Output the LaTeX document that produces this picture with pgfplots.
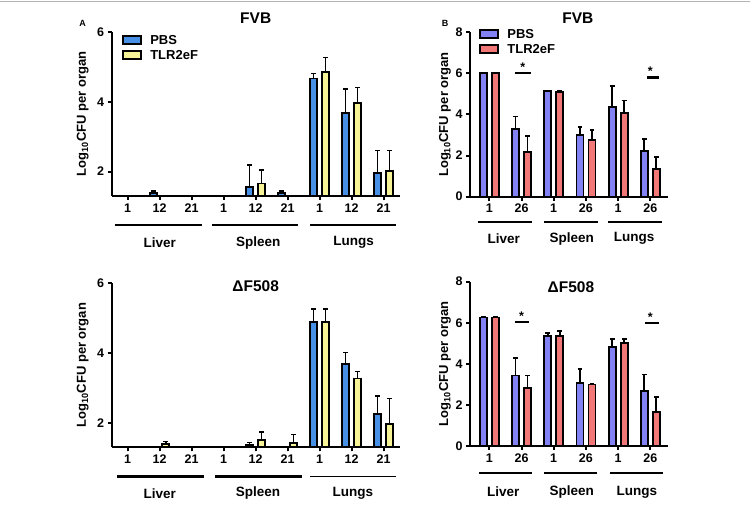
\documentclass[border=0pt]{standalone}
\usepackage{pgfplots}
\pgfplotsset{compat=1.18}
\usepackage{pgfplotstable}
\usepackage{fontspec}
\setmainfont{Liberation Sans}

\definecolor{aPBS}{RGB}{70,145,230}
\definecolor{aTLR}{RGB}{246,244,150}
\definecolor{bPBS}{RGB}{130,130,245}
\definecolor{bTLR}{RGB}{242,120,120}
\definecolor{topline}{RGB}{180,180,180}

% Panel A, FVB
\pgfplotstableread{
x y e
1 1.38 0.06
4 1.55 0.64
5 1.38 0.06
6 4.67 0.14
7 3.67 0.69
8 1.95 0.65
}\aTopPBS
\pgfplotstableread{
x y e
4 1.66 0.39
6 4.86 0.41
7 3.96 0.45
8 2.01 0.59
}\aTopTLR
% Panel A, dF508
\pgfplotstableread{
x y e
4 1.37 0.07
6 4.89 0.38
7 3.68 0.34
8 2.25 0.52
}\aBotPBS
\pgfplotstableread{
x y e
1 1.40 0.07
4 1.50 0.24
5 1.43 0.24
6 4.89 0.38
7 3.27 0.20
8 1.96 0.74
}\aBotTLR
% Panel B, FVB
\pgfplotstableread{
x y e
0 6.00 0.00
1 3.30 0.60
2 5.16 0.00
3 2.99 0.39
4 4.38 1.01
5 2.24 0.58
}\bTopPBS
\pgfplotstableread{
x y e
0 6.00 0.00
1 2.18 0.77
2 5.10 0.05
3 2.76 0.49
4 4.09 0.59
5 1.36 0.57
}\bTopTLR
% Panel B, dF508
\pgfplotstableread{
x y e
0 6.25 0.05
1 3.43 0.84
2 5.36 0.13
3 3.05 0.70
4 4.80 0.41
5 2.68 0.79
}\bBotPBS
\pgfplotstableread{
x y e
0 6.25 0.02
1 2.84 0.59
2 5.36 0.24
3 2.99 0.02
4 5.00 0.21
5 1.67 0.70
}\bBotTLR

\newcommand{\tickfont}{\fontsize{12.5}{13}\selectfont\bfseries}
\newcommand{\grpfont}{\fontsize{13.5}{14}\selectfont\bfseries}
\newcommand{\titfont}{\fontsize{15.5}{16}\selectfont\bfseries}

\pgfplotsset{
  panel/.style={
    scale only axis, ybar, bar width=7pt,
    axis x line*=bottom, axis y line*=left,
    axis line style={line width=2pt, -},
    tick align=outside, major tick length=4pt,
    tick style={line width=2pt, black},
    ticklabel style={font=\tickfont},
    /pgf/number format/assume math mode=true,
    clip mode=individual,
    enlarge x limits=false,
    ylabel={Log\textsubscript{10}CFU per organ},
    legend cell align=left,
    legend style={draw=none, fill=none, anchor=north west,
      font=\fontsize{13}{13}\selectfont\bfseries, inner sep=0pt, row sep=1.5pt,
      nodes={inner sep=1.5pt, text height=9.5pt, text depth=1pt},
      /tikz/every odd column/.append style={column sep=7pt}},
  },
  leg/.style={legend image code/.code={\draw[fill=#1,draw=black,line width=1.8pt] (0pt,-4pt) rectangle (18pt,4pt);}},
  bars/.style={draw=black, fill=#1, line width=1.8pt, leg=#1,
    error bars/y dir=plus, error bars/y explicit,
    error bars/error bar style={line width=1.6pt, black},
    error bars/error mark=-,
    error bars/error mark options={rotate=90, line width=1.6pt, mark size=2.4pt, black}},
  panelA/.style={panel, width=288pt, height=164pt,
    xmin=-0.5, xmax=8.5, ymin=1.3, ymax=6,
    xtick={0,...,8}, xticklabels={1,12,21,1,12,21,1,12,21},
    ytick={2,4,6},
    every axis y label/.style={at={(axis description cs:-0.1007,0.5)}, rotate=90, anchor=center, font=\fontsize{13}{13}\selectfont\bfseries},
  },
  panelB/.style={panel, width=198pt, height=164.4pt,
    xmin=-0.6, xmax=5.55, ymin=0, ymax=8,
    xtick={0,...,5}, xticklabels={1,26,1,26,1,26},
    ytick={0,2,4,6,8},
    every axis y label/.style={at={(axis description cs:-0.126,0.5)}, rotate=90, anchor=center, font=\fontsize{13}{13}\selectfont\bfseries},
  },
}

\begin{document}
\begin{tikzpicture}
\useasboundingbox (0pt,0pt) rectangle (750pt,505pt);
\draw[topline, line width=1.6pt] (0pt,503.3pt) -- (750pt,503.3pt);
\node[font=\fontsize{9}{9}\selectfont\bfseries] at (82.7pt,481.7pt) {A};
\node[font=\fontsize{9}{9}\selectfont\bfseries] at (445pt,481.7pt) {B};

% ---------- A top ----------
\begin{axis}[panelA, at={(111.7pt,309pt)}, anchor=south west,
  legend style={at={(0.035,0.994)}}]
\addplot[bar shift=-6pt, bars=aPBS] table[x=x,y=y,y error=e] {\aTopPBS};
\addlegendentry{PBS}
\addplot[bar shift=6pt, bars=aTLR] table[x=x,y=y,y error=e] {\aTopTLR};
\addlegendentry{TLR2eF}
\node[font=\titfont] at (axis description cs:0.5,1.082) {FVB};
\draw[line width=2.2pt] ([yshift=-29pt]axis cs:-0.4,1.3) -- ([yshift=-29pt]axis cs:2.31,1.3);
\draw[line width=2.2pt] ([yshift=-29pt]axis cs:2.64,1.3) -- ([yshift=-29pt]axis cs:5.33,1.3);
\draw[line width=1.6pt] ([yshift=-29pt]axis cs:5.7,1.3) -- ([yshift=-29pt]axis cs:8.4,1.3);
\node[font=\grpfont] at ([yshift=-46.7pt]axis cs:1,1.3) {Liver};
\node[font=\grpfont] at ([yshift=-46.7pt]axis cs:4.08,1.3) {Spleen};
\node[font=\grpfont] at ([yshift=-46.7pt]axis cs:7.06,1.3) {Lungs};
\end{axis}

% ---------- A bottom ----------
\begin{axis}[panelA, at={(111.7pt,57.7pt)}, anchor=south west]
\addplot[bar shift=-6pt, bars=aPBS] table[x=x,y=y,y error=e] {\aBotPBS};
\addplot[bar shift=6pt, bars=aTLR] table[x=x,y=y,y error=e] {\aBotTLR};
\node[font=\titfont] at (axis description cs:0.5,0.98) {ΔF508};
\draw[line width=2.5pt] ([yshift=-29.4pt]axis cs:-0.33,1.3) -- ([yshift=-29.4pt]axis cs:2.38,1.3);
\draw[line width=2.5pt] ([yshift=-29.4pt]axis cs:2.73,1.3) -- ([yshift=-29.4pt]axis cs:5.44,1.3);
\draw[line width=1.6pt] ([yshift=-29.4pt]axis cs:5.7,1.3) -- ([yshift=-29.4pt]axis cs:8.4,1.3);
\node[font=\grpfont] at ([yshift=-46pt]axis cs:1,1.3) {Liver};
\node[font=\grpfont] at ([yshift=-46pt]axis cs:4.07,1.3) {Spleen};
\node[font=\grpfont] at ([yshift=-46pt]axis cs:7.04,1.3) {Lungs};
\end{axis}

% ---------- B top ----------
\begin{axis}[panelB, at={(470pt,308.3pt)}, anchor=south west,
  legend style={at={(0.045,1.032)}}]
\addplot[bar shift=-6pt, bars=bPBS] table[x=x,y=y,y error=e] {\bTopPBS};
\addlegendentry{PBS}
\addplot[bar shift=6pt, bars=bTLR] table[x=x,y=y,y error=e] {\bTopTLR};
\addlegendentry{TLR2eF}
\node[font=\titfont] at (axis description cs:0.545,1.084) {FVB};
\draw[line width=2.2pt] (axis cs:0.8,6.0) -- (axis cs:1.3,6.0);
\node[font=\tickfont] at (axis cs:1.04,6.3) {*};
\draw[line width=2.2pt] (axis cs:4.9,5.8) -- (axis cs:5.28,5.8);
\node[font=\tickfont] at (axis cs:5.0,6.1) {*};
\draw[line width=2.2pt] ([yshift=-25pt]axis cs:-0.34,0) -- ([yshift=-25pt]axis cs:1.32,0);
\draw[line width=2.2pt] ([yshift=-25pt]axis cs:1.70,0) -- ([yshift=-25pt]axis cs:3.39,0);
\draw[line width=2.2pt] ([yshift=-25pt]axis cs:3.70,0) -- ([yshift=-25pt]axis cs:5.35,0);
\node[font=\grpfont] at ([yshift=-42pt]axis cs:0.45,0) {Liver};
\node[font=\grpfont] at ([yshift=-42pt]axis cs:2.56,0) {Spleen};
\node[font=\grpfont] at ([yshift=-42pt]axis cs:4.5,0) {Lungs};
\end{axis}

% ---------- B bottom ----------
\begin{axis}[panelB, at={(470pt,59pt)}, anchor=south west]
\addplot[bar shift=-6pt, bars=bPBS] table[x=x,y=y,y error=e] {\bBotPBS};
\addplot[bar shift=6pt, bars=bTLR] table[x=x,y=y,y error=e] {\bBotTLR};
\node[font=\titfont] at (axis description cs:0.51,0.968) {ΔF508};
\draw[line width=2.2pt] (axis cs:0.8,6.02) -- (axis cs:1.22,6.02);
\node[font=\tickfont] at (axis cs:1.0,6.3) {*};
\draw[line width=2.2pt] (axis cs:4.83,6.0) -- (axis cs:5.28,6.0);
\node[font=\tickfont] at (axis cs:5.0,6.28) {*};
\draw[line width=2.5pt] ([yshift=-27pt]axis cs:-0.32,0) -- ([yshift=-27pt]axis cs:1.32,0);
\draw[line width=1.6pt] ([yshift=-27pt]axis cs:1.70,0) -- ([yshift=-27pt]axis cs:3.35,0);
\draw[line width=1.6pt] ([yshift=-27pt]axis cs:3.75,0) -- ([yshift=-27pt]axis cs:5.40,0);
\node[font=\grpfont] at ([yshift=-46pt]axis cs:0.43,0) {Liver};
\node[font=\grpfont] at ([yshift=-46pt]axis cs:2.56,0) {Spleen};
\node[font=\grpfont] at ([yshift=-46pt]axis cs:4.58,0) {Lungs};
\end{axis}
\end{tikzpicture}
\end{document}
